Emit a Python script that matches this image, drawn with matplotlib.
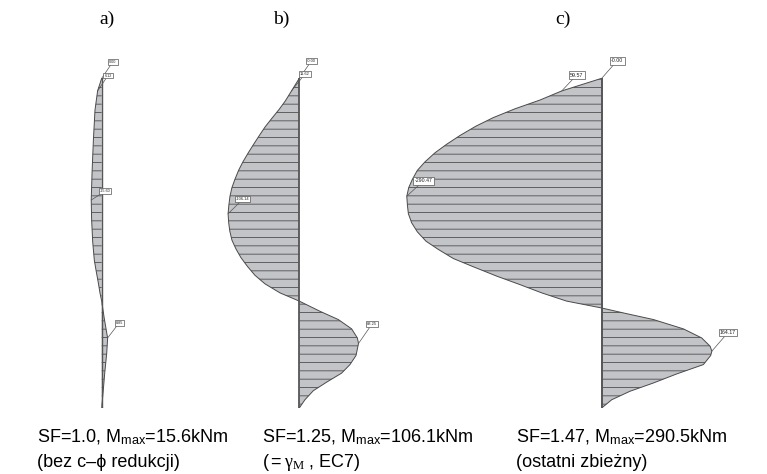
import matplotlib
matplotlib.use("Agg")
import matplotlib.pyplot as plt

plt.rcParams["mathtext.fontset"] = "custom"
plt.rcParams["mathtext.rm"] = "Liberation Sans"
plt.rcParams["mathtext.it"] = "Liberation Serif"
plt.rcParams["mathtext.default"] = "it"
plt.rcParams["hatch.linewidth"] = 0.6

# Bending moment along the wall (depth in m, moment in kNm)
depth_a = [0, 0.46, 1.16, 2.25, 3.45, 4.43, 5.16, 5.96, 6.62, 6.98, 7.45, 7.82,
           8.11, 8.69, 9.27, 9.45, 10.0, 10.73, 11.45, 12.0]
moment_a = [0.00, -6.12, -10.0, -12.4, -14.4, -15.60, -15.0, -13.4, -11.0, -8.5,
            -5.0, -2.5, 0.0, 3.5, 7.5, 8.85, 7.5, 4.5, 2.0, 0.0]

depth_b = [0, 0.46, 0.83, 1.13, 1.46, 1.77, 2.08, 2.40, 2.71, 3.04, 3.35, 3.68,
           3.98, 4.29, 4.62, 4.93, 5.26, 5.56, 5.89, 6.21, 6.53, 6.84, 7.17,
           7.48, 7.81, 8.11, 8.48, 8.78, 9.12, 9.45, 9.65, 10.09, 10.42, 10.73,
           11.06, 11.37, 11.70, 12.0]
moment_b = [0.00, -11.62, -21.0, -30.0, -41.0, -51.0, -59.5, -68.0, -76.0, -84.0,
            -90.5, -96.0, -100.4, -103.3, -105.0, -106.14, -105.2, -103.6, -100.4,
            -94.4, -86.9, -77.5, -66.1, -51.2, -28.8, 0.0, 30.8, 58.1, 78.0, 86.5,
            88.25, 84.5, 75.5, 63.1, 40.7, 20.9, 8.4, 0.0]

depth_c = [0, 0.46, 0.79, 1.11, 1.43, 1.74, 2.08, 2.40, 2.71, 3.04, 3.35, 3.68,
           3.98, 4.29, 4.63, 4.93, 5.26, 5.59, 5.93, 6.23, 6.56, 6.86, 7.20,
           7.51, 7.81, 8.11, 8.36, 8.54, 8.78, 9.12, 9.45, 9.75, 9.93, 10.09,
           10.42, 10.76, 11.09, 11.39, 11.70, 12.0]
moment_c = [0.00, -59.57, -91.9, -129.2, -161.5, -187.3, -211.1, -231.0, -248.4,
            -263.3, -274.7, -282.2, -287.6, -290.47, -289.5, -288.1, -283.2,
            -274.7, -261.8, -243.4, -221.1, -191.3, -156.5, -121.7, -89.4, -52.2,
            0.0, 32.3, 77.0, 121.7, 149.0, 161.5, 164.17, 162.4, 151.5, 111.8,
            77.0, 42.2, 14.9, 0.0]

# Printed values: (index into the arrays, text)
labels_a = [(0, "0.00"), (1, "6.12"), (5, "-15.60"), (15, "8.85")]
labels_b = [(0, "-0.00"), (1, "11.62"), (15, "-106.14"), (30, "88.25")]
labels_c = [(0, "-0.00"), (1, "59.57"), (13, "-290.47"), (32, "164.17")]

panel_titles = ["a)", "b)", "c)"]
caption_line1 = [r"SF=1.0, M$_{\mathrm{max}}$=15.6kNm",
                 r"SF=1.25, M$_{\mathrm{max}}$=106.1kNm",
                 r"SF=1.47, M$_{\mathrm{max}}$=290.5kNm"]
caption_line2 = ["(bez c–ϕ redukcji)",
                 r"($=\gamma_M$ , EC7)",
                 "(ostatni zbieżny)"]

W, H = 767, 474
fig = plt.figure(figsize=(W / 100, H / 100), dpi=100)

px_per_knm = 0.671
top_px, bot_px = 78.3, 408.0
FILL = "#c3c4c8"
LINE = "#4a4a4a"


def add_panel(wall_px, xlim, depth, moment, labels, offsets, fsize, wall_lw):
    left = wall_px + xlim[0] * px_per_knm
    width = (xlim[1] - xlim[0]) * px_per_knm
    ax = fig.add_axes([left / W, 1 - bot_px / H, width / W, (bot_px - top_px) / H])
    ax.set_xlim(*xlim)
    ax.set_ylim(depth[-1], depth[0])
    ax.set_axis_off()
    ax.fill_betweenx(depth, 0, moment, facecolor=FILL, edgecolor="#4f4f4f",
                     linewidth=0, hatch="--")
    ax.plot(moment, depth, color=LINE, lw=0.7)
    ax.plot([0, 0], [depth[0], depth[-1]], color="#555555", lw=wall_lw)
    for (i, txt), (dx, dy) in zip(labels, offsets):
        ax.annotate(txt, xy=(moment[i], depth[i]),
                    xytext=(dx * 0.72, dy * 0.72), textcoords="offset points",
                    ha="left", va="bottom", fontsize=fsize,
                    family="Liberation Sans", color="#222222",
                    bbox=dict(boxstyle="square,pad=0.25", fc="white",
                              ec="#555555", lw=0.5),
                    arrowprops=dict(arrowstyle="-", color="#555555", lw=0.5,
                                    shrinkA=0, shrinkB=0),
                    annotation_clip=False)
    return ax


add_panel(101.7, (-40, 40), depth_a, moment_a, labels_a,
          [(7.6, 14.7), (6.7, 13.4), (8.3, 6.7), (8.0, 13.3)], 2.7, 1.0)
add_panel(299.3, (-130, 120), depth_b, moment_b, labels_b,
          [(7.4, 15.0), (8.5, 15.0), (7.7, 12.3), (8.2, 17.0)], 2.9, 1.3)
add_panel(601.7, (-310, 190), depth_c, moment_c, labels_c,
          [(9.3, 15.0), (8.3, 13.4), (7.6, 12.7), (8.0, 16.0)], 3.8, 1.4)

for title, x in zip(panel_titles, [107, 281, 563]):
    fig.text(x / W, 1 - 19 / H, title, ha="center", va="center",
             fontsize=14, family="Liberation Serif")

for l1, l2, x in zip(caption_line1, caption_line2, [37, 262, 516]):
    fig.text(x / W, 1 - 442 / H, l1, ha="left", va="baseline", fontsize=13,
             family=["Liberation Sans", "DejaVu Sans"])
    fig.text(x / W, 1 - 467 / H, l2, ha="left", va="baseline", fontsize=13,
             family=["Liberation Sans", "DejaVu Serif"])

fig.savefig("out.png", dpi=100)
